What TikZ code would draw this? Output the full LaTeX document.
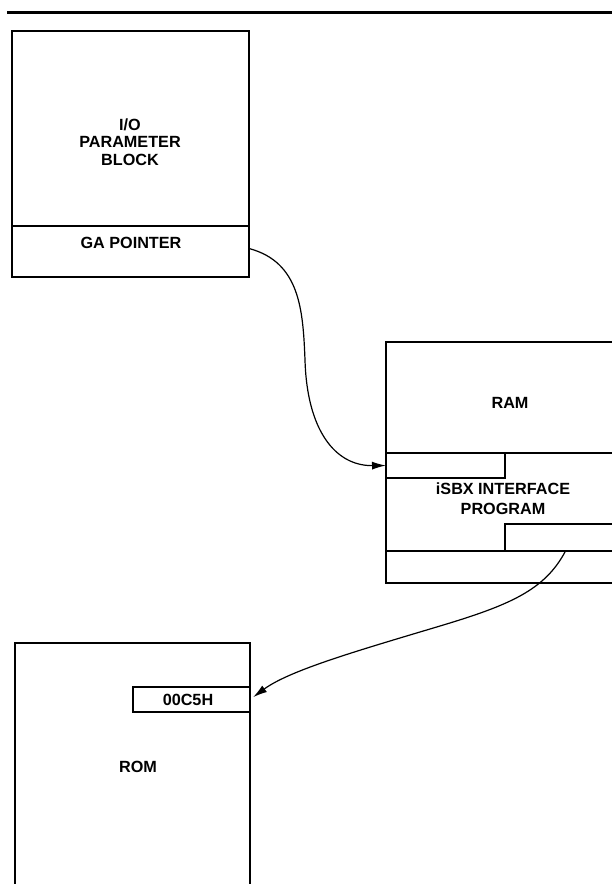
\documentclass[tikz,border=0pt]{standalone}
\usepackage{fontspec}
\setmainfont{Liberation Sans}
\usetikzlibrary{arrows.meta}
\begin{document}
\begin{tikzpicture}[x=1pt,y=-1pt,
  outer/.style={draw, line width=2.4pt, inner sep=0pt, outer sep=0pt, anchor=north west},
  part/.style={draw, line width=1.3pt, inner sep=0pt, outer sep=0pt, anchor=north west},
  divider/.style={line width=1.5pt},
  lbl/.style={font=\fontsize{16.2}{17.5}\selectfont\bfseries, align=center, inner sep=0pt},
  link/.style={line width=1.2pt, -{Latex[length=14pt,width=8pt]}}]
\useasboundingbox (0,0) rectangle (612,884);
\clip (0,0) rectangle (612,884);
% top rule
\draw[line width=3pt] (7,12) -- (612,12);
% I/O parameter block
\node[part, minimum width=237pt, minimum height=51pt] (ga) at (12,226) {};
\node[outer, minimum width=237pt, minimum height=246pt] (iopb) at (12,31) {};
\node[lbl] (iotext) at (130,142) {I/O\\PARAMETER\\BLOCK};
\node[lbl] (gatext) at (131,243) {GA POINTER};
% RAM block
\node[part, minimum width=119pt, minimum height=25pt] (slot1) at (386,453) {};
\node[part, minimum width=121pt, minimum height=27pt] (slot2) at (505,524) {};
\node[outer, minimum width=240pt, minimum height=241pt] (ram) at (386,342) {};
\draw[divider] (386,453) -- (626,453);
\draw[divider] (386,551) -- (626,551);
\node[lbl] (ramtext) at (510,403) {RAM};
\node[lbl, font=\fontsize{16.2}{20}\selectfont\bfseries] (isbx) at (503,499) {iSBX INTERFACE\\PROGRAM};
% ROM block
\node[part, minimum width=117pt, minimum height=25pt] (addr) at (133,687) {};
\node[outer, minimum width=235pt, minimum height=260pt] (rom) at (15,643) {};
\node[lbl] (addrtext) at (188,700) {00C5H};
\node[lbl] (romtext) at (138,767) {ROM};
% connectors
\draw[link] ([yshift=3pt]ga.east) .. controls (300,262) and (303,310) .. (305,360)
  .. controls (307,430) and (335,466) .. (slot1.west);
\draw[link, shorten >=4pt] (slot2.south) .. controls (545,590) and (510,605) .. (440,626)
  .. controls (360,650) and (290,670) .. (addr.east);
\end{tikzpicture}
\end{document}
